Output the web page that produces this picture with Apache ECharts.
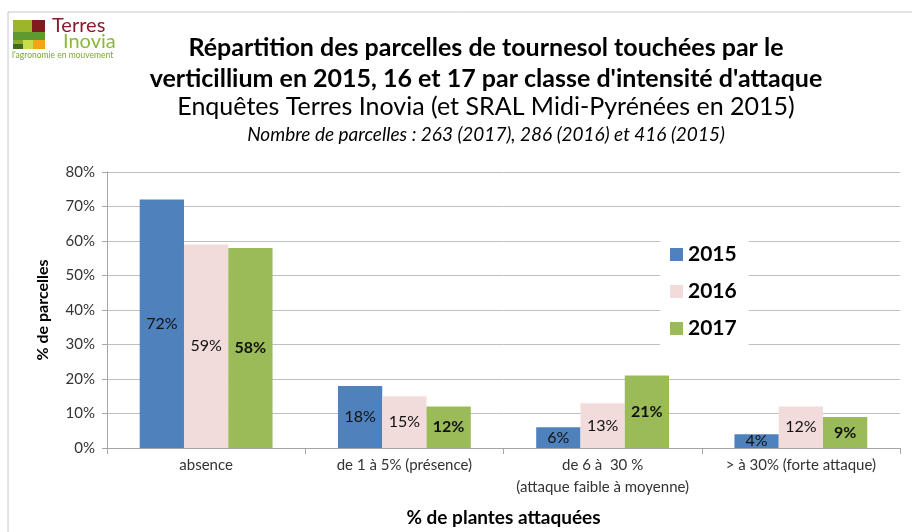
<!DOCTYPE html>
<html>
<head>
<meta charset="utf-8">
<script src="https://cdn.jsdelivr.net/npm/echarts@6/dist/echarts.min.js"></script>
<style>
  html, body { margin: 0; padding: 0; background: #fff; }
</style>
</head>
<body>
<div id="main" style="width: 912px;height:532px;"></div>
<script>
  // données
  var categories = ['absence', 'de 1 à 5% (présence)', 'de 6 à  30 %\n(attaque faible à moyenne)', '> à 30% (forte attaque)'];
  var years = ['2015', '2016', '2017'];
  var v2015 = [72, 18, 6, 4];
  var v2016 = [59, 15, 13, 12];
  var v2017 = [58, 12, 21, 9];
  var colors = ['#4f81bd', '#f2dcdb', '#9bbb59'];

  var font = 'Lato, "Open Sans", sans-serif';

  var myChart = echarts.init(document.getElementById('main'));

  function barSerie(name, data, color, bold) {
    return {
      name: name,
      type: 'bar',
      data: data,
      barGap: 0,
      barCategoryGap: '33%',
      itemStyle: { color: color },
      label: {
        show: true,
        position: 'inside',
        formatter: '{c}%',
        fontFamily: font,
        fontSize: 16,
        fontWeight: bold ? 'bold' : 'normal',
        color: '#111'
      }
    };
  }

  var option = {
    animation: false,
    textStyle: { fontFamily: font },
    title: [
      {
        text: "Répartition des parcelles de tournesol touchées par le\nverticillium en 2015, 16 et 17 par classe d'intensité d'attaque",
        left: 481, top: 27, textAlign: 'center',
        textStyle: { fontFamily: font, fontSize: 25, fontWeight: 'bold', lineHeight: 31, color: '#000' }
      },
      {
        text: 'Enquêtes Terres Inovia (et SRAL Midi-Pyrénées en 2015)',
        left: 481, top: 89, textAlign: 'center',
        textStyle: { fontFamily: font, fontSize: 25, fontWeight: 'normal', color: '#000' }
      },
      {
        text: 'Nombre de parcelles : 263 (2017), 286 (2016) et 416 (2015)',
        left: 481, top: 120, textAlign: 'center',
        textStyle: { fontFamily: font, fontSize: 19, fontStyle: 'italic', fontWeight: 'normal', color: '#000' }
      }
    ],
    legend: {
      data: years,
      orient: 'vertical',
      left: 660,
      top: 236,
      icon: 'rect',
      itemWidth: 13,
      itemHeight: 13,
      itemGap: 16,
      padding: [8, 12, 8, 10],
      backgroundColor: '#fff',
      textStyle: { fontFamily: font, fontSize: 21, fontWeight: 'bold', color: '#000' }
    },
    grid: { left: 107, right: 12, top: 172, bottom: 80 },
    xAxis: {
      type: 'category',
      data: categories,
      name: '% de plantes attaquées',
      nameLocation: 'middle',
      nameGap: 60,
      nameTextStyle: { fontFamily: font, fontSize: 19, fontWeight: 'bold', color: '#000' },
      axisLine: { lineStyle: { color: '#a6a6a6' } },
      axisTick: { show: true, length: 6, lineStyle: { color: '#a6a6a6' } },
      axisLabel: { interval: 0, fontFamily: font, fontSize: 15, lineHeight: 22, margin: 6, color: '#333' }
    },
    yAxis: {
      type: 'value',
      min: 0,
      max: 80,
      interval: 10,
      name: '% de parcelles',
      nameLocation: 'middle',
      nameGap: 56,
      nameTextStyle: { fontFamily: font, fontSize: 16, fontWeight: 'bold', color: '#000' },
      axisLine: { show: true, lineStyle: { color: '#a6a6a6' } },
      axisTick: { show: true, length: 5, lineStyle: { color: '#a6a6a6' } },
      splitLine: { lineStyle: { color: '#bfbfbf' } },
      axisLabel: { formatter: '{value}%', fontFamily: font, fontSize: 15, margin: 12, color: '#333' }
    },
    graphic: [
      // cadre
      { type: 'rect', z: -1, shape: { x: 8, y: 12, width: 1000, height: 700 }, style: { fill: 'none', stroke: '#c6c6c6', lineWidth: 1 } },
      // logo Terres Inovia
      { type: 'rect', shape: { x: 13, y: 20, width: 19, height: 12 }, style: { fill: '#9cb52b' } },
      { type: 'rect', shape: { x: 32, y: 20, width: 13, height: 12 }, style: { fill: '#7d1b1f' } },
      { type: 'rect', shape: { x: 13, y: 32, width: 32, height: 8 }, style: { fill: '#5e9a30' } },
      { type: 'rect', shape: { x: 13, y: 40, width: 10, height: 4 }, style: { fill: '#8aaa2a' } },
      { type: 'rect', shape: { x: 13, y: 44, width: 10, height: 5 }, style: { fill: '#3e6b1e' } },
      { type: 'rect', shape: { x: 23, y: 40, width: 10, height: 9 }, style: { fill: '#c9dc4a' } },
      { type: 'rect', shape: { x: 33, y: 40, width: 12, height: 9 }, style: { fill: '#f2a516' } },
      { type: 'text', left: 52, top: 16, style: { text: 'Terres', fill: '#8a1b2c', font: '20px ' + font } },
      { type: 'text', left: 63, top: 32, style: { text: 'Inovia', fill: '#8db83a', font: '20px ' + font } },
      { type: 'text', left: 12, top: 51, style: { text: "l'agronomie en mouvement", fill: '#7aa832', font: '8.5px ' + font } }
    ],
    series: [
      barSerie(years[0], v2015, colors[0], false),
      barSerie(years[1], v2016, colors[1], false),
      barSerie(years[2], v2017, colors[2], true)
    ]
  };
  myChart.setOption(option);
</script>
</body>
</html>
